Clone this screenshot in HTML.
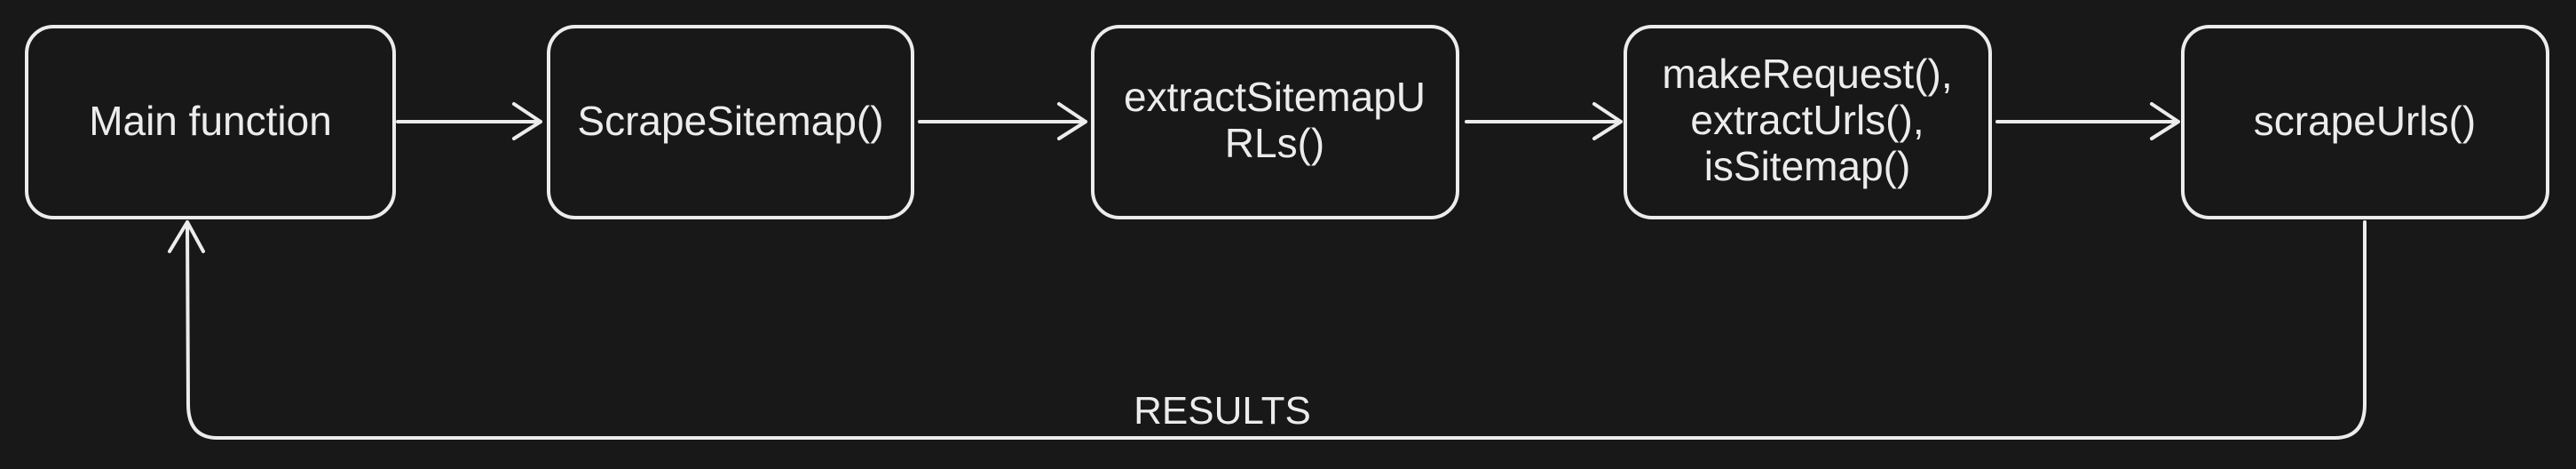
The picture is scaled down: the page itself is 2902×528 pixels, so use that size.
<!DOCTYPE html>
<html><head><style>
html,body{margin:0;padding:0;background:#181818;}
svg{display:block}
text{font-family:"Liberation Sans",sans-serif;fill:#ececec;font-size:46px;text-anchor:middle;}
</style></head><body>
<svg width="2902" height="528" viewBox="0 0 2902 528" xmlns="http://www.w3.org/2000/svg">
<rect width="2902" height="528" fill="#181818"/>
<g fill="none" stroke="#ececec" stroke-width="4" stroke-linecap="round" stroke-linejoin="round">
<rect x="30" y="30" width="414" height="215" rx="30"/>
<rect x="618" y="30" width="410" height="215" rx="30"/>
<rect x="1231" y="30" width="411" height="215" rx="30"/>
<rect x="1831" y="30" width="411" height="215" rx="30"/>
<rect x="2459" y="30" width="411" height="215" rx="30"/>
<path d="M448 137 L609 137 M579 117 L609 137 L579 156"/>
<path d="M1036 137 L1223 137 M1193 117 L1223 137 L1193 156"/>
<path d="M1652 137 L1826 137 M1796 117 L1826 137 L1796 156"/>
<path d="M2250 137 L2454 137 M2424 117 L2454 137 L2424 156"/>
<path d="M2664 250 L2664 455 Q2664 493 2630 493 L245 493 Q212 493 212 455 L211 250 M191 283 L211 250 L229 283"/>
</g>
<text x="237" y="152">Main function</text>
<text x="823" y="152">ScrapeSitemap()</text>
<text x="1436" y="125">extractSitemapU</text>
<text x="1436" y="177">RLs()</text>
<text x="2036" y="99">makeRequest(),</text>
<text x="2036" y="151">extractUrls(),</text>
<text x="2036" y="203">isSitemap()</text>
<text x="2664" y="152">scrapeUrls()</text>
<text x="1377" y="477" style="font-size:44px">RESULTS</text>
</svg>
</body></html>
